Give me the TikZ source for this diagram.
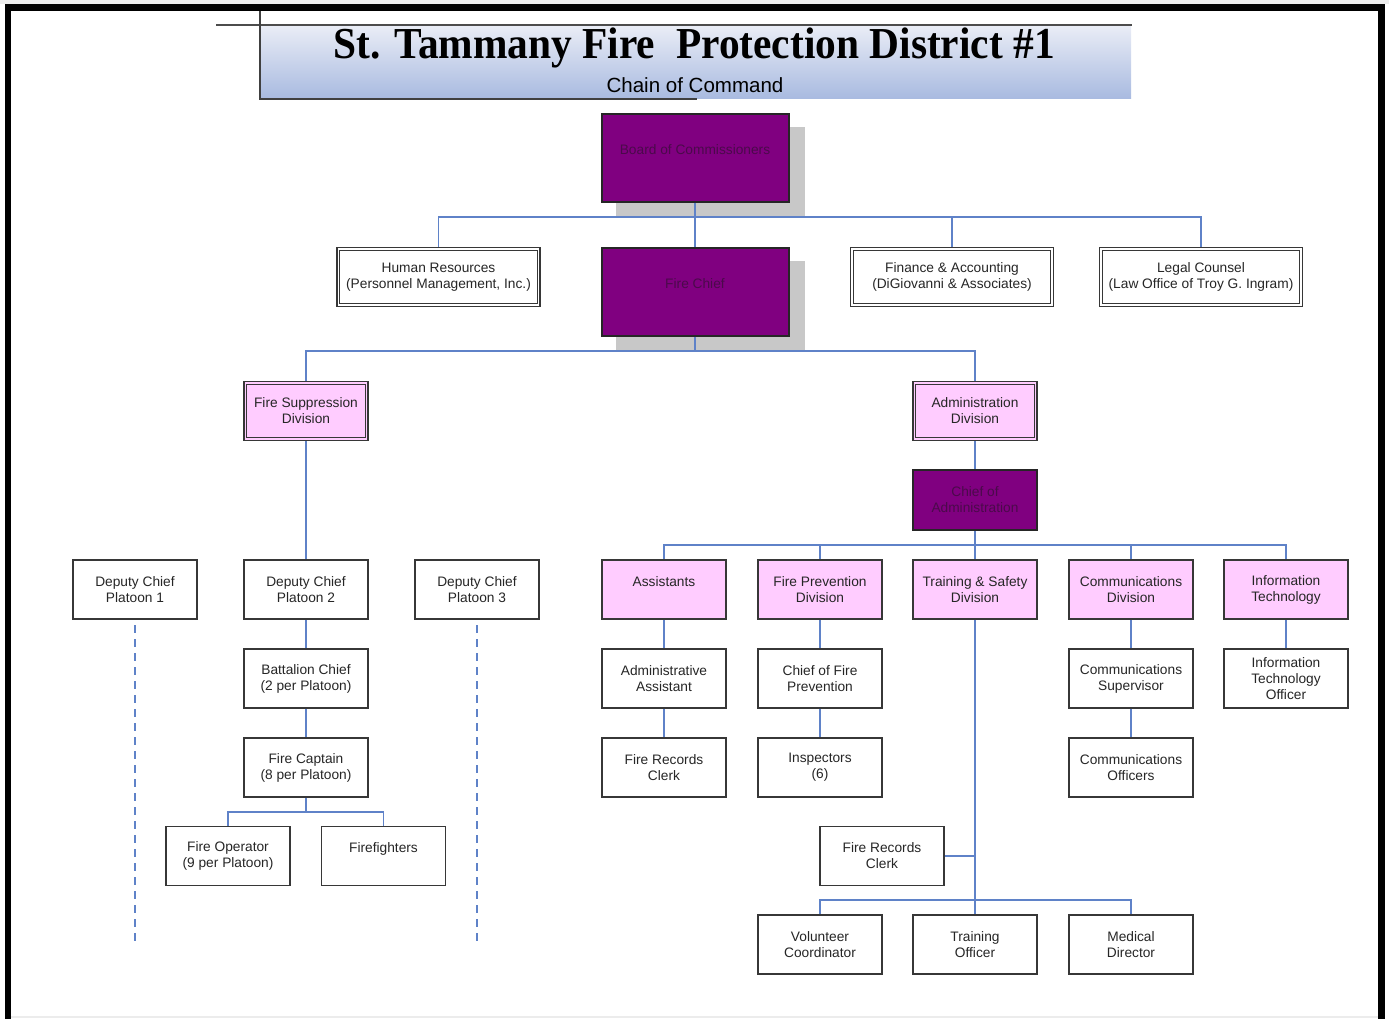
\documentclass[tikz,border=0pt]{standalone}
\usepackage{fontspec}
\setmainfont{Liberation Sans}
\newfontfamily\titlefont{Liberation Serif}
\usetikzlibrary{backgrounds}
\definecolor{conncol}{RGB}{95,130,200}
\definecolor{purp}{RGB}{128,0,128}
\definecolor{purptext}{RGB}{75,10,75}
\definecolor{pinkfill}{RGB}{255,204,255}
\definecolor{shadowgray}{RGB}{200,200,200}
\definecolor{boxline}{RGB}{55,55,55}
\definecolor{bantop}{RGB}{234,237,246}
\definecolor{banbot}{RGB}{168,186,224}
\tikzset{
  conn/.style={draw=conncol, line width=1.3pt},
  dashconn/.style={draw=conncol, line width=1.3pt, dash pattern=on 6pt off 4.5pt},
  box/.style={draw=boxline, line width=1.2pt, fill=white, minimum width=93pt, minimum height=44.25pt,
    inner sep=0pt, align=center, font=\fontsize{10.3}{12}\selectfont, text=black!85},
  pinkbox/.style={box, fill=pinkfill},
  innerline/.style={draw=boxline, line width=0.8pt},
  dbox/.style={box, line width=1.3pt, minimum width=152.25pt},
  dpinkbox/.style={box, fill=pinkfill, line width=1.3pt},
  purpbox/.style={box, fill=purp, draw=black!85, text=purptext, line width=1.5pt},
  bigpurp/.style={purpbox, minimum width=140.25pt, minimum height=66pt},
  shadowfill/.style={fill=shadowgray},
}
\begin{document}
\begin{tikzpicture}[x=0.75pt,y=-0.75pt]
\useasboundingbox (0,0) rectangle (1389,1019);
\fill[gray!15] (0,0) rectangle (1389,4);
\draw[gray!15, line width=1.5pt] (11,1017) -- (1378,1017);
% page border
\draw[black, line width=4.8pt, line join=miter] (8,1019) -- (8,7.5) -- (1381.5,7.5) -- (1381.5,1019);
% banner
\shade[top color=bantop, bottom color=banbot] (260,25) rectangle (1131,99);
\draw[gray!60!black, line width=1.2pt] (216,25) -- (1132,25);
\draw[gray!50!black, line width=1.2pt] (260,11) -- (260,99) -- (697,99);
\node (title) at (694,48) {\resizebox{541pt}{23pt}{\titlefont\bfseries St. Tammany Fire\ \ Protection District \#1}};
\node (sub) at (695,85) {\fontsize{15.4}{18}\selectfont Chain of Command};

% top level
\node[bigpurp] (board) at (695,158) {Board of Commissioners\\ \mbox{}};
\node[bigpurp] (chief) at (695,292) {Fire Chief\\ \mbox{}};
\node[dbox] (hr) at (438.5,277) {Human Resources\\(Personnel Management, Inc.)};
\node[dbox] (fin) at (952,277) {Finance \& Accounting\\(DiGiovanni \& Associates)};
\node[dbox] (legal) at (1201,277) {Legal Counsel\\(Law Office of Troy G. Ingram)};

\begin{scope}[on background layer]
\fill[shadowfill] ([shift={(15,14)}]board.north west) rectangle ([shift={(15,14)}]board.south east);
\fill[shadowfill] ([shift={(15,14)}]chief.north west) rectangle ([shift={(15,14)}]chief.south east);
\end{scope}

% divisions
\node[dpinkbox] (fsd) at (306,411) {Fire Suppression\\Division};
\node[dpinkbox] (adm) at (975,411) {Administration\\Division};

% inner frames of the double-bordered boxes
\foreach \n in {hr,fin,legal,fsd,adm}
  \draw[innerline] ([shift={(2.7pt,2.7pt)}]\n.south west) rectangle ([shift={(-2.7pt,-2.7pt)}]\n.north east);

% suppression side
\node[box] (dc1) at (135,589.5) {Deputy Chief\\Platoon 1};
\node[box] (dc2) at (306,589.5) {Deputy Chief\\Platoon 2};
\node[box] (dc3) at (477,589.5) {Deputy Chief\\Platoon 3};
\node[box] (bat) at (306,678.5) {Battalion Chief\\(2 per Platoon)};
\node[box] (cap) at (306,767.5) {Fire Captain\\(8 per Platoon)};
\node[box] (fop) at (228,856) {Fire Operator\\(9 per Platoon)};
\node[box] (ff) at (383.5,856) {Firefighters\\ \mbox{}};

% administration side
\node[purpbox, minimum height=45pt] (coa) at (975,500) {Chief of\\Administration};
\node[pinkbox] (asst) at (664,589.5) {Assistants\\ \mbox{}};
\node[pinkbox] (fpd) at (820,589.5) {Fire Prevention\\Division};
\node[pinkbox] (tsd) at (975,589.5) {Training \& Safety\\Division};
\node[pinkbox] (cd) at (1131,589.5) {Communications\\Division};
\node[pinkbox] (it) at (1286,589.5) {Information\\Technology};
\node[box] (aa) at (664,678.5) {Administrative\\Assistant};
\node[box] (frc1) at (664,767.5) {Fire Records\\Clerk};
\node[box] (cfp) at (820,678.5) {Chief of Fire\\Prevention};
\node[box] (insp) at (820,767.5) {Inspectors\\(6)};
\node[box] (cs) at (1131,678.5) {Communications\\Supervisor};
\node[box] (co) at (1131,767.5) {Communications\\Officers};
\node[box] (ito) at (1286,678.5) {Information\\Technology\\Officer};
\node[box] (frc2) at (882,856) {Fire Records\\Clerk};
\node[box] (vc) at (820,944.5) {Volunteer\\Coordinator};
\node[box] (to) at (975,944.5) {Training\\Officer};
\node[box] (md) at (1131,944.5) {Medical\\Director};

% junctions
\coordinate (j1) at (695,217);
\coordinate (j2) at (695,351);
\coordinate (j3) at (306,812);
\coordinate (j4) at (975,545);
\coordinate (j5) at (975,900);

% connectors
\draw[conn] (board.south) -- (chief.north);
\draw[conn] (hr.north) |- (j1) -| (legal.north);
\draw[conn] (fin.north) -- (fin.north |- j1);
\draw[conn] (chief.south) -- (j2);
\draw[conn] (fsd.north) |- (j2) -| (adm.north);
\draw[conn] (fsd.south) -- (dc2.north);
\draw[conn] (dc2.south) -- (bat.north);
\draw[conn] (bat.south) -- (cap.north);
\draw[conn] (cap.south) -- (j3);
\draw[conn] (fop.north) |- (j3) -| (ff.north);
\draw[dashconn] ([yshift=-4pt]dc1.south) -- (dc1.south |- 0,945);
\draw[dashconn] ([yshift=-4pt]dc3.south) -- (dc3.south |- 0,945);

\draw[conn] (adm.south) -- (coa.north);
\draw[conn] (coa.south) -- (j4);
\draw[conn] (asst.north) |- (j4) -| (it.north);
\draw[conn] (fpd.north) -- (fpd.north |- j4);
\draw[conn] (tsd.north) -- (j4);
\draw[conn] (cd.north) -- (cd.north |- j4);
\draw[conn] (asst.south) -- (aa.north);
\draw[conn] (aa.south) -- (frc1.north);
\draw[conn] (fpd.south) -- (cfp.north);
\draw[conn] (cfp.south) -- (insp.north);
\draw[conn] (cd.south) -- (cs.north);
\draw[conn] (cs.south) -- (co.north);
\draw[conn] (it.south) -- (ito.north);
\draw[conn] (tsd.south) -- (to.north);
\draw[conn] (frc2.east) -- (frc2.east -| tsd.south);
\draw[conn] (vc.north) |- (j5) -| (md.north);
\end{tikzpicture}
\end{document}
